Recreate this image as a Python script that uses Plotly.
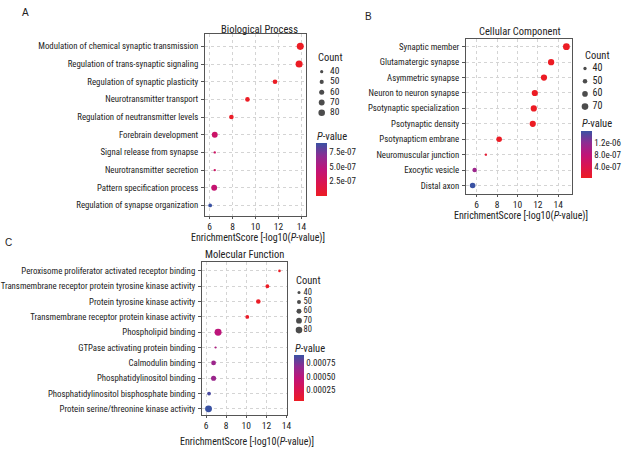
import plotly.graph_objects as go
import numpy as np

W, H = 635, 452
FONT = "Liberation Sans Narrow, Arial Narrow, Roboto Condensed, Liberation Sans, sans-serif"

# ---------------- data ----------------
bp_terms = ["Modulation of chemical synaptic transmission", "Regulation of trans-synaptic signaling",
            "Regulation of synaptic plasticity", "Neurotransmitter transport",
            "Regulation of neutransmitter levels", "Forebrain development",
            "Signal release from synapse", "Neurotransmitter secretion",
            "Pattern specification process", "Regulation of synapse organization"]
bp_score = [13.9, 13.8, 11.7, 9.3, 7.9, 6.45, 6.45, 6.45, 6.4, 6.05]
bp_count = [86, 86, 55, 55, 55, 70, 32, 32, 70, 45]
bp_p = [1.3e-14, 1.6e-14, 2.0e-12, 5.0e-10, 1.3e-8, 3.5e-7, 3.3e-7, 3.3e-7, 4.0e-7, 9.0e-7]

cc_terms = ["Synaptic member", "Glutamatergic synapse", "Asymmetric synapse",
            "Neuron to neuron synapse", "Psotynaptic specialization", "Psotynaptic density",
            "Psotynapticm embrane", "Neuromuscular junction", "Exocytic vesicle", "Distal axon"]
cc_score = [14.8, 13.3, 12.6, 11.7, 11.6, 11.5, 8.2, 6.9, 5.8, 5.6]
cc_count = [72, 67, 66, 66, 66, 66, 60, 33, 50, 60]
cc_p = [1.6e-15, 5.0e-14, 2.5e-13, 2.0e-12, 2.5e-12, 3.2e-12, 6.3e-9, 1.3e-7, 1.1e-6, 1.62e-6]

mf_terms = ["Peroxisome proliferator activated receptor binding",
            "Transmembrane receptor protein tyrosine kinase activity",
            "Protein tyrosine kinase activity", "Transmembrane receptor protein kinase activity",
            "Phospholipid binding", "GTPase activating protein binding", "Calmodulin binding",
            "Phosphatidylinositol binding", "Phosphatidylinositol bisphosphate binding",
            "Protein serine/threonine kinase activity"]
mf_score = [13.3, 12.1, 11.2, 10.1, 7.2, 6.95, 6.75, 6.75, 6.3, 6.25]
mf_count = [36, 48, 56, 48, 85, 32, 58, 62, 48, 84]
mf_p = [5.0e-5, 5.5e-5, 6.0e-5, 7.0e-5, 4.8e-4, 5.4e-4, 6.2e-4, 6.3e-4, 8.5e-4, 8.9e-4]

bp_legend_counts = [40, 50, 60, 70, 80]
cc_legend_counts = [40, 50, 60, 70]
mf_legend_counts = [40, 50, 60, 70, 80]

bp_p_ticks = [2.5e-7, 5.0e-7, 7.5e-7]
bp_p_ticktext = ["2.5e-07", "5.0e-07", "7.5e-07"]
cc_p_ticks = [4.0e-7, 8.0e-7, 1.2e-6]
cc_p_ticktext = ["4.0e-07", "8.0e-07", "1.2e-06"]
mf_p_ticks = [0.00025, 0.00050, 0.00075]
mf_p_ticktext = ["0.00025", "0.00050", "0.00075"]

x_ticks = [6, 8, 10, 12, 14]

# ---------------- helpers ----------------
def px(x):
    return x / W

def py(y):
    return 1 - y / H

def size_map(counts, c_lo, d_lo, c_hi, d_hi):
    s = np.sqrt(np.asarray(counts, float))
    return list(d_lo + (s - np.sqrt(c_lo)) * (d_hi - d_lo) / (np.sqrt(c_hi) - np.sqrt(c_lo)))

CSCALE = [[0.0, "#ec1c24"], [0.25, "#da1450"], [0.5, "#bf1479"], [0.75, "#8e2c92"], [1.0, "#3a52a3"]]
TXT = "#222222"

fig = go.Figure()

panels = [
    dict(terms=bp_terms, score=bp_score, count=bp_count, p=bp_p, ax="", ca="coloraxis",
         box=(205, 306, 34, 216), xr=[5.6, 14.4], ypad=(0.7, 0.6), sz=(40, 3.2, 80, 6.6),
         title="Biological Process", title_xy=(259, 29), xt_y=237.5, letter="A", letter_xy=(25, 13)),
    dict(terms=cc_terms, score=cc_score, count=cc_count, p=cc_p, ax="2", ca="coloraxis2",
         box=(466, 572, 39, 194), xr=[4.95, 15.35], ypad=(0.5, 0.55), sz=(40, 3.3, 70, 6.6),
         title="Cellular Component", title_xy=(520, 31), xt_y=215.5, letter="B", letter_xy=(368, 16)),
    dict(terms=mf_terms, score=mf_score, count=mf_count, p=mf_p, ax="3", ca="coloraxis3",
         box=(202, 287, 262, 415), xr=[5.6, 14.05], ypad=(0.58, 0.4), sz=(40, 3.0, 80, 6.6),
         title="Molecular Function", title_xy=(244, 254), xt_y=442, letter="C", letter_xy=(8, 242)),
]

annotations = []
for pn in panels:
    fig.add_trace(go.Scatter(
        x=pn["score"], y=pn["terms"], mode="markers",
        xaxis="x" + pn["ax"], yaxis="y" + pn["ax"],
        marker=dict(size=size_map(pn["count"], *pn["sz"]), color=pn["p"],
                    coloraxis=pn["ca"], line=dict(width=0), opacity=1),
        showlegend=False, hoverinfo="skip"))
    x0, x1, y0, y1 = pn["box"]
    n = len(pn["terms"])
    xa = dict(domain=[px(x0), px(x1)], range=pn["xr"], tickvals=x_ticks, automargin=False,
              showline=True, mirror=True, linecolor="#555555", linewidth=1,
              ticks="outside", ticklen=2, tickcolor="#555555",
              showgrid=True, gridcolor="#d4d4d4", griddash="dot", gridwidth=1,
              zeroline=False, tickfont=dict(family=FONT, size=9.5, color=TXT),
              anchor="y" + pn["ax"])
    ya = dict(domain=[py(y1), py(y0)], type="category", categoryorder="array", automargin=False,
              categoryarray=pn["terms"], range=[n - 1 + pn["ypad"][1], -pn["ypad"][0]],
              showline=True, mirror=True, linecolor="#555555", linewidth=1,
              ticks="outside", ticklen=3, tickcolor="#555555",
              showgrid=True, gridcolor="#d4d4d4", griddash="dot", gridwidth=1,
              zeroline=False, tickfont=dict(family=FONT, size=8.8, color=TXT),
              ticklabelstandoff=1, anchor="x" + pn["ax"])
    fig.layout["xaxis" + pn["ax"]] = xa
    fig.layout["yaxis" + pn["ax"]] = ya
    annotations.append(dict(text=pn["title"], x=px(pn["title_xy"][0]), y=py(pn["title_xy"][1]),
                            xref="paper", yref="paper", showarrow=False,
                            xanchor="center", yanchor="middle",
                            font=dict(family=FONT, size=10.5, color=TXT)))
    annotations.append(dict(text="EnrichmentScore [-log10(<i>P</i>-value)]",
                            x=px((x0 + x1) / 2 + 2), y=py(pn["xt_y"]),
                            xref="paper", yref="paper", showarrow=False,
                            xanchor="center", yanchor="middle",
                            font=dict(family=FONT, size=10, color=TXT)))
    annotations.append(dict(text=pn["letter"], x=px(pn["letter_xy"][0]), y=py(pn["letter_xy"][1]),
                            xref="paper", yref="paper", showarrow=False,
                            xanchor="center", yanchor="middle",
                            font=dict(family="Liberation Sans, sans-serif", size=10, color=TXT)))

# ---------------- size legends ----------------
legends = [
    dict(counts=bp_legend_counts, first_y=71.7, step=10.25, dot_x=321.7, lab_x=330, sz=panels[0]["sz"],
         title_xy=(316, 58), ax="4", fs=9.5),
    dict(counts=cc_legend_counts, first_y=68.5, step=12.7, dot_x=585, lab_x=592.5, sz=panels[1]["sz"],
         title_xy=(583, 55.5), ax="5", fs=10),
    dict(counts=mf_legend_counts, first_y=292.5, step=9.4, dot_x=299, lab_x=303.5, sz=panels[2]["sz"],
         title_xy=(294, 280), ax="6", fs=8.5),
]
for lg in legends:
    c = lg["counts"]
    per = lg["step"] / 10.0
    top_px = lg["first_y"] - 8
    bot_px = lg["first_y"] + (c[-1] - c[0]) * per + 8
    r_top = c[0] - (lg["first_y"] - top_px) / per
    r_bot = c[0] + (bot_px - lg["first_y"]) / per
    left_px = lg["dot_x"] - 6
    fig.add_trace(go.Scatter(
        x=[0] * len(c), y=c, mode="markers", xaxis="x" + lg["ax"], yaxis="y" + lg["ax"],
        marker=dict(size=size_map(c, *lg["sz"]), color="black", line=dict(width=0)),
        showlegend=False, hoverinfo="skip"))
    fig.add_trace(go.Scatter(
        x=[lg["lab_x"] - lg["dot_x"]] * len(c), y=c, mode="text", text=[str(v) for v in c],
        textposition="middle right", xaxis="x" + lg["ax"], yaxis="y" + lg["ax"],
        textfont=dict(family=FONT, size=lg["fs"], color=TXT),
        showlegend=False, hoverinfo="skip"))
    fig.layout["xaxis" + lg["ax"]] = dict(domain=[px(left_px), px(left_px + 40)], range=[-6, 34],
                                          visible=False, automargin=False, anchor="y" + lg["ax"])
    fig.layout["yaxis" + lg["ax"]] = dict(domain=[py(bot_px), py(top_px)], range=[r_bot, r_top],
                                          visible=False, automargin=False, anchor="x" + lg["ax"])
    annotations.append(dict(text="Count", x=px(lg["title_xy"][0]), y=py(lg["title_xy"][1]),
                            xref="paper", yref="paper", xanchor="left", yanchor="middle",
                            showarrow=False, font=dict(family=FONT, size=10.5, color=TXT)))

# ---------------- colour bars ----------------
def cax(pvals, ticks, ticktext, x_left, y_top, y_bot, thick):
    return dict(colorscale=CSCALE, cmin=min(pvals), cmax=max(pvals),
                colorbar=dict(x=px(x_left), xanchor="left", y=py(y_top), yanchor="top",
                              len=y_bot - y_top, lenmode="pixels", thickness=thick,
                              thicknessmode="pixels",
                              xpad=0, ypad=0, outlinewidth=0, ticks="",
                              tickvals=ticks, ticktext=ticktext,
                              tickfont=dict(family=FONT, size=9, color=TXT)))

colorbars = [("coloraxis", bp_p, bp_p_ticks, bp_p_ticktext, 316, 143, 196, 11, 136),
             ("coloraxis2", cc_p, cc_p_ticks, cc_p_ticktext, 581, 131, 178, 11, 124),
             ("coloraxis3", mf_p, mf_p_ticks, mf_p_ticktext, 294, 355, 401, 10, 348)]
for name, pv, tv, tt, xl, yt, yb, th, title_y in colorbars:
    fig.layout[name] = cax(pv, tv, tt, xl, yt, yb, th)
    annotations.append(dict(text="<i>P</i>-value", x=px(xl - 1), y=py(title_y),
                            xref="paper", yref="paper", xanchor="left", yanchor="middle",
                            showarrow=False, font=dict(family=FONT, size=10.5, color=TXT)))

fig.update_layout(width=W, height=H, margin=dict(l=0, r=0, t=0, b=0, autoexpand=False),
                  paper_bgcolor="white", plot_bgcolor="white",
                  annotations=annotations, showlegend=False,
                  font=dict(family=FONT, color=TXT))

fig.write_html("out.html")
